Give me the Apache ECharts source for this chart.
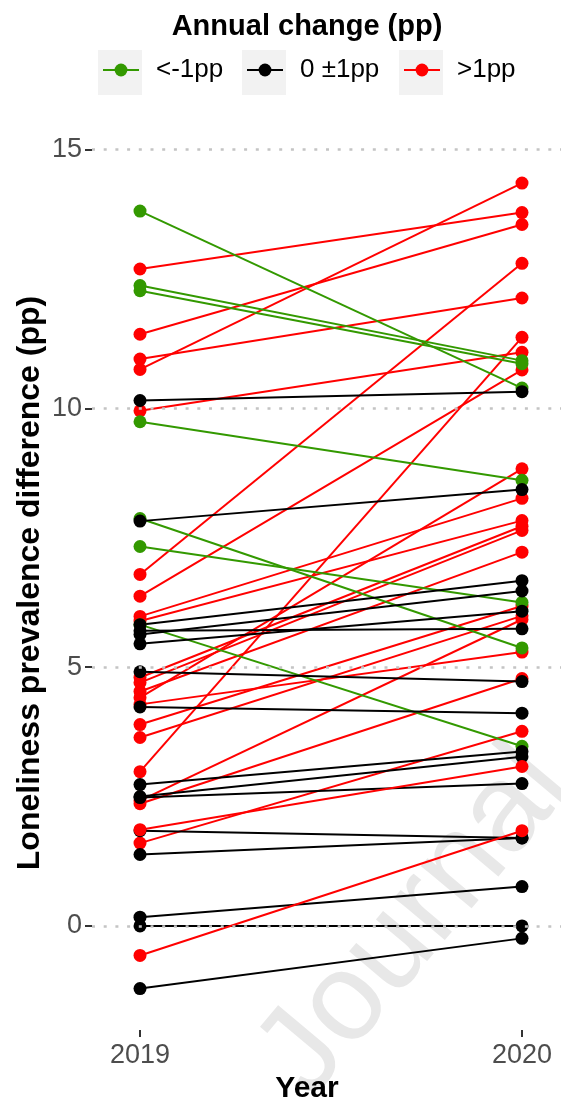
<!DOCTYPE html>
<html><head><meta charset="utf-8">
<script src="https://cdn.jsdelivr.net/npm/echarts@6/dist/echarts.min.js"></script>
<style>html,body{margin:0;padding:0;background:#fff}#c{width:561px;height:1111px}</style>
</head><body><div id="c"></div>
<script>
const years = [2019, 2020];
const groups = ['<-1pp', '0 ±1pp', '>1pp'];
const groupColors = ['#339900', '#000000', '#ff0000'];
const yTicks = [0, 5, 10, 15];
// 0 = <-1pp, 1 = 0 ±1pp, 2 = >1pp
const v2019 = [12.69, 11.43, 10.95, 10.75, 9.95, 6.79, 6.37, 2.98, 1.60, 4.41, 5.98, 5.89, 4.80, 4.70, 4.53, 3.89, 3.64, 2.42, 4.28, 2.36,
               13.81, 12.37, 12.27, 9.74, 7.87, 7.33, 5.82,
               10.15, 7.82, 5.82, 5.70, 5.63, 5.45, 4.91, 4.23, 2.73, 2.50, 2.48, 1.84, 1.38, 0.17, 0.00, -1.21,
               1.86, -0.57];
const v2020 = [13.78, 13.55, 12.13, 14.35, 11.08, 12.80, 10.74, 11.37, 3.76, 8.83, 8.26, 7.83, 7.72, 7.64, 7.22, 6.18, 5.99, 5.92, 5.29, 4.78,
               10.39, 10.92, 10.86, 8.61, 5.37, 6.25, 3.47,
               10.32, 8.43, 6.67, 5.74, 6.47, 6.08, 4.72, 4.11, 3.37, 3.27, 2.75, 1.70, 1.70, 0.76, 0.00, -0.24,
               3.08, 1.84];
const grp = [2,2,2,2,2,2,2,2,2,2,2,2,2,2,2,2,2,2,2,2,
             0,0,0,0,0,0,0,
             1,1,1,1,1,1,1,1,1,1,1,1,1,1,1,1,
             2,2];

const FONT = '"Liberation Sans", Arial, sans-serif';
const chart = echarts.init(document.getElementById('c'), null, {renderer: 'canvas'});

const lineSeries = v2019.map((a, i) => ({
  type: 'line', name: groups[grp[i]], silent: true, z: 2,
  data: [[years[0], a], [years[1], v2020[i]]],
  symbol: 'circle', symbolSize: 13, showSymbol: false,
  lineStyle: {color: groupColors[grp[i]], width: 2},
  itemStyle: {color: groupColors[grp[i]]}
}));
const pts = [];
v2019.forEach((a, i) => {
  pts.push({value: [years[0], a], itemStyle: {color: groupColors[grp[i]], opacity: 1}});
  pts.push({value: [years[1], v2020[i]], itemStyle: {color: groupColors[grp[i]], opacity: 1}});
});

const legendLeft = [102, 246, 403];
const keyBoxes = [98, 242, 399];

chart.setOption({
  animation: false,
  textStyle: {fontFamily: FONT},
  grid: {left: 92, right: 0, top: 142.7, bottom: 81},
  xAxis: {
    type: 'value', min: 2018.8743, max: 2020.1021,
    axisLine: {show: false, onZero: false}, splitLine: {show: false},
    axisTick: {show: true, customValues: years, length: 7, lineStyle: {color: '#333', width: 2}},
    axisLabel: {customValues: years, formatter: v => String(v), fontSize: 27, color: '#4d4d4d', margin: 12, fontFamily: FONT}
  },
  yAxis: {
    type: 'value', min: -2.01, max: 15.13,
    axisLine: {show: false, onZero: false}, splitLine: {show: false},
    axisTick: {show: true, customValues: yTicks, length: 7, lineStyle: {color: '#333', width: 2}},
    axisLabel: {customValues: yTicks, formatter: v => String(v), fontSize: 27, color: '#4d4d4d', margin: 10, fontFamily: FONT}
  },
  legend: groups.map((g, i) => ({
    data: [g], left: legendLeft[i], top: 57, padding: 0, selectedMode: false,
    itemWidth: 36, itemHeight: 16,
    textStyle: {fontSize: 26, color: '#000', fontFamily: FONT, padding: [0, 0, 0, 12]}
  })),
  graphic: [
    ...keyBoxes.map(x => ({type: 'rect', shape: {x: x, y: 50, width: 44, height: 45}, style: {fill: '#f2f2f2'}, z: -5})),
    {type: 'text', x: 415, y: 922, rotation: 50 * Math.PI / 180, z: -10,
     style: {text: 'Journal', font: '125px ' + FONT, fill: '#e8e8e8', textAlign: 'center', textVerticalAlign: 'middle'}},
    {type: 'text', x: 307, y: 27, style: {text: 'Annual change (pp)', font: 'bold 29px ' + FONT, fill: '#000', textAlign: 'center', textVerticalAlign: 'middle'}},
    {type: 'text', x: 307, y: 1089, style: {text: 'Year', font: 'bold 30px ' + FONT, fill: '#000', textAlign: 'center', textVerticalAlign: 'middle'}},
    {type: 'text', x: 30, y: 583, rotation: Math.PI / 2, style: {text: 'Loneliness prevalence difference (pp)', font: 'bold 32px ' + FONT, fill: '#000', textAlign: 'center', textVerticalAlign: 'middle'}}
  ],
  series: [
    {type: 'scatter', name: 'gridlines', data: [], z: 1, silent: true,
     markLine: {silent: true, symbol: 'none', label: {show: false}, animation: false,
       lineStyle: {color: '#c4c4c4', width: 2.5, type: [3, 8.7]},
       data: yTicks.map(v => ({yAxis: v}))}},
    ...lineSeries,
    {type: 'scatter', name: 'points', data: pts, symbolSize: 13, z: 3, silent: true}
  ]
});
</script></body></html>
